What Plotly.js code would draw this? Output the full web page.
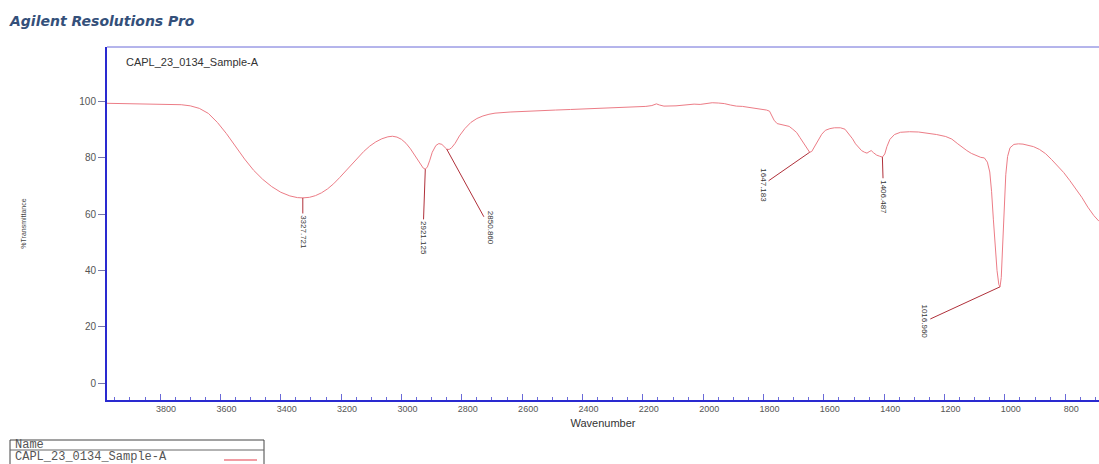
<!DOCTYPE html>
<html>
<head>
<meta charset="utf-8">
<script src="https://cdn.plot.ly/plotly-3.0.1.min.js"></script>
<style>html,body{margin:0;padding:0;background:#fff;}#chart{width:1099px;height:464px;}</style>
</head>
<body>
<div id="chart"></div>
<script>
// ---- data ----
const sampleName = "CAPL_23_0134_Sample-A";
const wavenumber = [3976,3930,3880,3830,3780,3730,3700,3670,3640,3610,3580,3550,3520,3490,3460,3430,3400,3370,3345,3327,3305,3285,3265,3245,3225,3205,3185,3165,3145,3125,3105,3085,3065,3045,3030,3015,3000,2985,2970,2955,2940,2928,2921,2914,2906,2898,2886,2876,2866,2858,2850,2842,2834,2822,2808,2790,2770,2750,2730,2710,2690,2640,2590,2540,2490,2440,2390,2340,2290,2240,2190,2170,2155,2145,2130,2090,2050,2030,2010,1990,1970,1950,1930,1910,1890,1870,1850,1830,1810,1790,1780,1772,1765,1755,1740,1730,1715,1703,1690,1679,1667,1656,1647,1640,1631,1620,1607,1595,1580,1565,1545,1530,1517,1505,1495,1485,1475,1465,1457,1450,1443,1435,1425,1415,1406,1398,1391,1381,1366,1346,1316,1286,1256,1226,1196,1176,1156,1141,1126,1111,1096,1080,1068,1058,1050,1044,1038,1032,1026,1020,1016,1012,1007,1002,997,991,983,970,955,940,925,905,885,865,845,825,805,785,765,745,725,705,688];
const transmittance = [99.4,99.3,99.2,99.2,99.1,98.9,98.5,97.6,95.8,92.6,88.6,84.0,79.6,75.6,72.4,69.8,67.8,66.5,65.9,65.8,66.0,66.6,67.6,69.0,70.8,73.0,75.4,77.8,80.2,82.3,84.2,85.7,86.8,87.5,87.7,87.4,86.6,85.2,83.2,80.8,78.2,76.4,76.0,76.8,79.2,82.0,84.4,85.1,84.8,83.8,83.1,83.0,83.6,85.2,87.8,90.4,92.6,94.0,94.9,95.5,95.9,96.3,96.6,96.8,97.0,97.2,97.4,97.5,97.7,97.9,98.3,98.6,99.2,98.8,98.4,98.5,98.9,99.1,99.0,99.4,99.6,99.5,99.3,98.8,98.4,98.3,98.0,97.8,97.5,97.0,96.6,94.8,93.4,92.2,91.8,91.6,91.2,90.2,89.0,87.2,85.4,83.6,82.0,82.3,84.0,86.3,88.4,89.8,90.4,90.7,90.7,90.2,88.6,86.8,85.0,83.6,82.6,82.0,81.7,82.2,82.6,81.8,81.0,80.6,80.3,81.4,84.0,86.6,88.3,89.1,89.3,89.2,88.8,88.3,87.6,86.7,85.0,83.7,82.6,81.6,80.8,80.2,80.0,78.5,75.0,68.0,58.0,48.0,40.0,35.0,34.2,37.5,48.0,62.0,74.0,80.5,83.6,84.8,85.0,84.9,84.6,84.0,83.0,81.5,79.4,77.2,74.8,72.0,69.0,66.0,62.5,59.5,57.5];

// picked peaks (wavenumber of the mark, %T at the mark, printed label)
const peakWavenumber = [3327, 2921, 2850, 1647, 1406, 1016];
const peakTransmittance = [65.8, 76.0, 83.1, 82.0, 80.3, 34.2];
const peakLabels = ["3327.721", "2921.125", "2850.860", "1647.183", "1406.487", "1016.960"];

const yTickValues = [0, 20, 40, 60, 80, 100];

// ---- label placement (style, not data) ----
const labelAnchorX = [3327, 2929, 2707, 1803, 1402, 1267];
const labelAnchorY = [53.7, 51.6, 55.2, 70.4, 66.2, 21.8];

const curveColor = "#ec7c86";
const axisBlue = "#2a2ad0";

const trace = {
  x: wavenumber, y: transmittance, type: "scatter", mode: "lines",
  line: {color: curveColor, width: 1}, hoverinfo: "skip", showlegend: false
};

const annotations = peakWavenumber.map((w, i) => ({
  x: w, y: peakTransmittance[i], xref: "x", yref: "y",
  ax: labelAnchorX[i], ay: labelAnchorY[i], axref: "x", ayref: "y",
  text: peakLabels[i], textangle: 90, showarrow: true, arrowhead: 0,
  arrowwidth: 1, arrowcolor: "#b0303a", standoff: 0, startstandoff: 0,
  font: {family: "Liberation Sans, Arial", size: 8, color: "#333"}
}));

// sample name inside plot
annotations.push({
  xref: "paper", yref: "paper", x: (124 - 107) / 992, y: (400 - 62) / 353,
  xanchor: "left", yanchor: "middle", showarrow: false, text: sampleName,
  font: {family: "Liberation Sans, Arial", size: 11, color: "#333"}
});
// legend box texts
annotations.push({
  xref: "paper", yref: "paper", x: (13 - 107) / 992, y: (400 - 445) / 353,
  xanchor: "left", yanchor: "middle", showarrow: false, text: "Name",
  font: {family: "Liberation Mono, Courier New, monospace", size: 12, color: "#555"}
});
annotations.push({
  xref: "paper", yref: "paper", x: (13 - 107) / 992, y: (400 - 457) / 353,
  xanchor: "left", yanchor: "middle", showarrow: false, text: sampleName,
  font: {family: "Liberation Mono, Courier New, monospace", size: 12, color: "#555"}
});

const px = v => (v - 107) / 992;
const py = v => (400 - v) / 353;

const shapes = [
  {type: "line", xref: "paper", yref: "paper", x0: 0, x1: 1, y0: 1, y1: 1, line: {color: "#6a6ad8", width: 1}},
  {type: "rect", xref: "paper", yref: "paper", x0: px(10), x1: px(264), y0: py(470), y1: py(440), line: {color: "#444", width: 1}, fillcolor: "rgba(0,0,0,0)"},
  {type: "line", xref: "paper", yref: "paper", x0: px(10), x1: px(264), y0: py(450), y1: py(450), line: {color: "#666", width: 1}},
  {type: "line", xref: "paper", yref: "paper", x0: px(224), x1: px(257), y0: py(460), y1: py(460), line: {color: curveColor, width: 1.5}}
];

const layout = {
  width: 1099, height: 464,
  margin: {l: 107, r: 0, t: 47, b: 64},
  paper_bgcolor: "#fff", plot_bgcolor: "#fff",
  showlegend: false,
  title: {
    text: "Agilent Resolutions Pro", x: 10 / 1099, xanchor: "left", xref: "container",
    y: 1 - 21 / 464, yanchor: "middle", yref: "container",
    font: {family: "DejaVu Sans, Arial", size: 14, weight: "bold", style: "italic", color: "#34507a"}
  },
  xaxis: {
    range: [3976, 688], autorange: false,
    tick0: 0, dtick: 200, ticks: "inside", ticklen: 6, tickcolor: "#6a6ad8",
    minor: {dtick: 50, ticks: "inside", ticklen: 3, tickcolor: "#6a6ad8"},
    tickfont: {family: "Liberation Sans, Arial", size: 9, color: "#555"},
    ticklabelshift: -6,
    showline: true, linecolor: axisBlue, linewidth: 1.5,
    showgrid: false, zeroline: false,
    title: {text: "Wavenumber", standoff: 6, font: {family: "Liberation Sans, Arial", size: 11, color: "#333"}}
  },
  yaxis: {
    range: [-6, 119.4], autorange: false,
    tickvals: yTickValues, ticktext: yTickValues.map(String),
    ticks: "outside", ticklen: 7, tickcolor: "#7777aa",
    tickfont: {family: "Liberation Sans, Arial", size: 10, color: "#555"},
    showline: true, linecolor: axisBlue, linewidth: 2,
    showgrid: false, zeroline: false,
    title: {text: "%Transmittance", standoff: 52, font: {family: "Liberation Sans, Arial", size: 7, color: "#444"}}
  },
  annotations: annotations,
  shapes: shapes
};

Plotly.newPlot("chart", [trace], layout, {staticPlot: true, displayModeBar: false});
</script>
</body>
</html>
